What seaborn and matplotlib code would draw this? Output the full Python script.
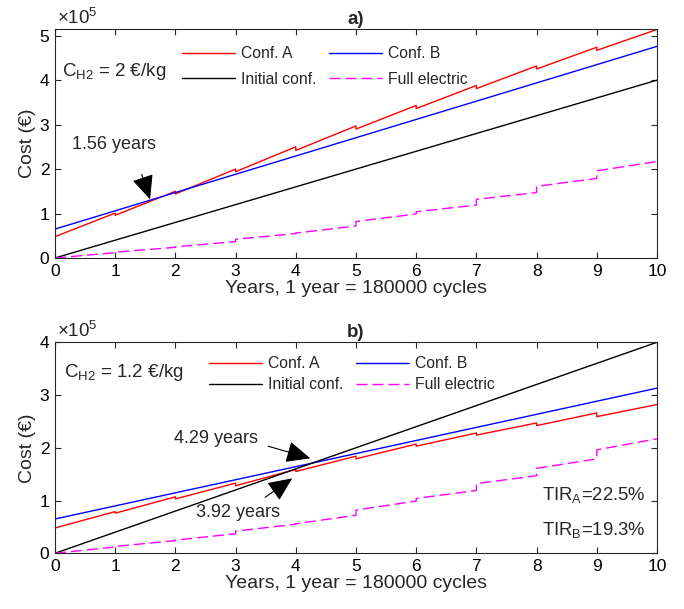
import matplotlib
matplotlib.use("Agg")
import matplotlib.pyplot as plt
import numpy as np
import pandas as pd
import seaborn as sns

# ---------------- data (cost in units of 1e5 EUR) ----------------
years_start = [0, 1, 2, 3, 4, 5, 6, 7, 8, 9]
years_end = [1, 2, 3, 4, 5, 6, 7, 8, 9, 10]

# panel a) C_H2 = 2 EUR/kg
conf_a_start_a = [0.48, 0.96, 1.44, 1.94, 2.42, 2.90, 3.36, 3.81, 4.25, 4.67]
conf_a_end_a = [1.01, 1.50, 2.00, 2.50, 2.97, 3.43, 3.88, 4.32, 4.74, 5.14]
line_years = [0, 10]
conf_b_a = [0.65, 4.76]
initial_conf = [0.0, 4.0]
full_start = [0.0, 0.13, 0.25, 0.42, 0.56, 0.82, 1.04, 1.32, 1.61, 1.96]
full_end = [0.12, 0.24, 0.37, 0.55, 0.72, 0.99, 1.19, 1.47, 1.79, 2.17]

# panel b) C_H2 = 1.2 EUR/kg
conf_a_start_b = [0.48, 0.76, 1.03, 1.28, 1.55, 1.79, 2.03, 2.24, 2.42, 2.59]
conf_a_end_b = [0.79, 1.07, 1.33, 1.59, 1.84, 2.07, 2.28, 2.47, 2.66, 2.82]
conf_b_b = [0.65, 3.13]

labels = ["Conf. A", "Conf. B", "Initial conf.", "Full electric"]
colors = ["#ff0000", "#0000ff", "#000000", "#ff00ff"]

xticks = list(range(11))
yticks_a = [0, 1, 2, 3, 4, 5]
yticks_b = [0, 1, 2, 3, 4]


def steps(xs0, xs1, ys0, ys1):
    x, y = [], []
    for a, b, c, d in zip(xs0, xs1, ys0, ys1):
        x += [a, b]
        y += [c, d]
    return x, y


sns.set_style("ticks")
plt.rcParams.update({
    "font.family": ["Liberation Sans", "DejaVu Sans"],
    "mathtext.fontset": "custom",
    "mathtext.rm": "Liberation Sans",
    "mathtext.it": "Liberation Sans:italic",
    "mathtext.bf": "Liberation Sans:bold",
    "xtick.direction": "in",
    "ytick.direction": "in",
    "xtick.top": True,
    "ytick.right": True,
    "axes.edgecolor": "#262626",
    "axes.linewidth": 0.8,
    "xtick.color": "#262626",
    "ytick.color": "#262626",
    "xtick.labelcolor": "black",
    "ytick.labelcolor": "black",
})

fig = plt.figure(figsize=(6.84, 6.09), dpi=100)
ax_a = fig.add_axes([0.0804, 0.5764, 0.8801, 0.3752])
ax_b = fig.add_axes([0.0804, 0.0915, 0.8801, 0.3465])

dash = (0, (8, 3.5))


def draw(ax, a0, a1, b_vals):
    xa, ya = steps(years_start, years_end, a0, a1)
    xf, yf = steps(years_start, years_end, full_start, full_end)
    sns.lineplot(x=xa, y=ya, ax=ax, color=colors[0], lw=1.0, label=labels[0],
                 estimator=None, sort=False)
    sns.lineplot(x=line_years, y=b_vals, ax=ax, color=colors[1], lw=1.0,
                 label=labels[1], estimator=None, sort=False)
    sns.lineplot(x=line_years, y=initial_conf, ax=ax, color=colors[2], lw=1.0,
                 label=labels[2], estimator=None, sort=False)
    sns.lineplot(x=xf, y=yf, ax=ax, color=colors[3], lw=1.0, label=labels[3],
                 estimator=None, sort=False, linestyle=dash)


draw(ax_a, conf_a_start_a, conf_a_end_a, conf_b_a)
draw(ax_b, conf_a_start_b, conf_a_end_b, conf_b_b)

for ax, yt, ytop in [(ax_a, yticks_a, 5.14), (ax_b, yticks_b, 4.0)]:
    ax.set_xlim(0, 10)
    ax.set_ylim(0, ytop)
    ax.set_xticks(xticks)
    ax.set_yticks(yt)
    ax.tick_params(labelsize=12.5, length=4, width=0.8, pad=4)
    for s in ax.spines.values():
        s.set_visible(True)
    ax.set_xlabel("Years, 1 year = 180000 cycles", fontsize=14, labelpad=1)
    ax.set_ylabel("Cost (€)", fontsize=14, labelpad=3)
    ax.text(0.003, 1.008, r"$\times10^5$", transform=ax.transAxes, fontsize=13.5,
            ha="left", va="bottom")

ax_a.set_title("a)", fontsize=13.5, fontweight="bold", pad=4)
ax_b.set_title("b)", fontsize=13.5, fontweight="bold", pad=4)

# legends (2 columns, column-wise order)
for ax, anchor, lsp in [(ax_a, (182 / 684, 1 - 46 / 609), 0.7),
                         (ax_b, (209 / 684, 1 - 356 / 609), 0.4)]:
    h, l = ax.get_legend_handles_labels()
    order = [0, 2, 1, 3]
    ax.legend([h[i] for i in order], [l[i] for i in order], ncol=2,
              loc="upper left", bbox_to_anchor=anchor,
              bbox_transform=fig.transFigure, frameon=False, fontsize=11.3,
              handlelength=3.4, handletextpad=0.35, columnspacing=0.8,
              labelspacing=lsp, borderpad=0, borderaxespad=0)

arrow_kw = dict(arrowstyle="-|>,head_length=1.0,head_width=0.45",
                color="black", lw=0.8, shrinkA=0, shrinkB=0, mutation_scale=15)

# annotations panel a
ax_a.text(0.12, 4.19, r"C$_{\rm H2}$ = 2 €/kg", fontsize=13.5, va="center", ha="left")
ax_a.text(0.29, 2.55, "1.56 years", fontsize=13, va="center", ha="left")
ax_a.annotate("", xy=(1.58, 1.32), xytext=(1.44, 1.88), arrowprops=arrow_kw)

# annotations panel b
ax_b.text(0.15, 3.43, r"C$_{\rm H2}$ = 1.2 €/kg", fontsize=13.5, va="center", ha="left")
ax_b.text(1.98, 2.17, "4.29 years", fontsize=13, va="center", ha="left")
ax_b.annotate("", xy=(4.24, 1.80), xytext=(3.54, 2.03), arrowprops=arrow_kw)
ax_b.text(2.34, 0.78, "3.92 years", fontsize=13, va="center", ha="left")
ax_b.annotate("", xy=(3.94, 1.42), xytext=(3.49, 1.06), arrowprops=arrow_kw)
ax_b.text(8.09, 1.10, r"TIR$_{\rm A}$=22.5%", fontsize=13.3, va="center", ha="left")
ax_b.text(8.09, 0.45, r"TIR$_{\rm B}$=19.3%", fontsize=13.3, va="center", ha="left")

fig.savefig("out.png", dpi=100)
